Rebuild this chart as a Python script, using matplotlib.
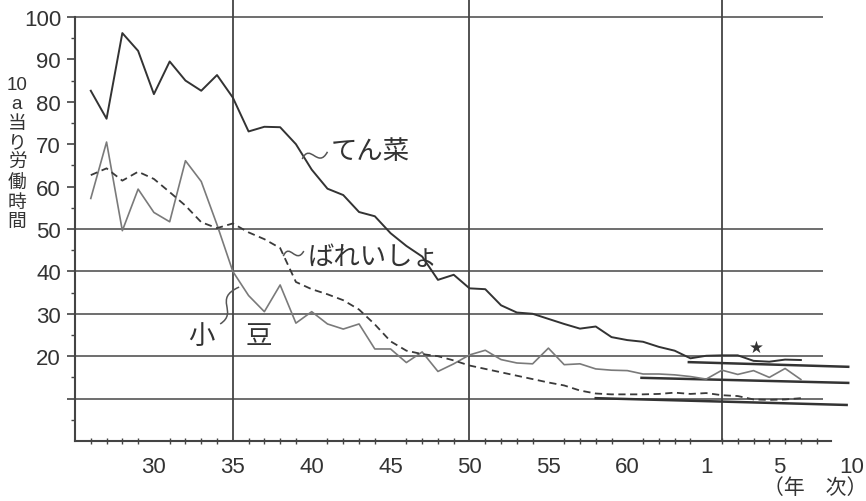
import numpy as np
import matplotlib
matplotlib.use("Agg")
import matplotlib.pyplot as plt
from matplotlib.path import Path
from matplotlib.patches import PathPatch
from matplotlib.ticker import FixedLocator

plt.rcParams['font.family'] = ['Liberation Sans', 'Noto Sans CJK JP', 'DejaVu Sans']

# x = Showa year (Heisei continues on the same scale: H1 = 64)
years = list(range(26, 72))

tensai = [82.6, 76.0, 96.2, 92.0, 81.8, 89.5, 85.0, 82.6, 86.3, 81.0,
          73.0, 74.1, 74.0, 70.0, 64.0, 59.5, 58.0, 54.0, 53.0, 49.0,
          46.0, 43.5, 38.0, 39.2, 36.0, 35.8, 32.0, 30.3, 30.0, 28.8,
          27.6, 26.5, 27.0, 24.5, 23.8, 23.4, 22.2, 21.3, 19.5, 20.1,
          20.2, 20.2, 18.9, 18.7, 19.2, 19.1]

bareisho = [62.7, 64.3, 61.4, 63.5, 61.8, 58.7, 55.5, 51.6, 50.2, 51.3,
            49.2, 47.6, 45.5, 37.5, 35.8, 34.6, 33.2, 31.0, 27.5, 23.5,
            21.3, 20.5, 20.0, 19.0, 17.8, 17.0, 16.2, 15.4, 14.6, 13.8,
            13.1, 11.9, 11.2, 11.0, 11.0, 11.0, 11.1, 11.4, 11.1, 11.3,
            10.8, 10.6, 9.8, 9.7, 9.8, 10.1]

azuki = [57.2, 70.5, 49.6, 59.4, 53.9, 51.7, 66.1, 61.2, 51.0, 40.0,
         34.3, 30.5, 36.8, 27.8, 30.5, 27.6, 26.4, 27.6, 21.7, 21.7,
         18.5, 21.0, 16.4, 18.2, 20.3, 21.4, 19.2, 18.4, 18.2, 21.9,
         18.0, 18.2, 17.0, 16.7, 16.6, 15.8, 15.8, 15.6, 15.2, 14.6,
         16.7, 15.7, 16.6, 15.0, 17.1, 14.5]

# slanted reference strokes in the Heisei part (x0, y0, x1, y1)
ref_segments = [(63.9, 18.6, 74.0, 17.5),
                (60.9, 14.9, 74.0, 13.7),
                (58.0, 10.1, 73.9, 8.5)]

xtick_pos = [30, 35, 40, 45, 50, 55, 60, 65.0, 69.6, 74.2]
xtick_labels = ['30', '35', '40', '45', '50', '55', '60', '1', '5', '10']
ytick_pos = [10, 20, 30, 40, 50, 60, 70, 80, 90, 100]
ytick_labels = ['', '20', '30', '40', '50', '60', '70', '80', '90', '100']
grid_y = [10, 20, 30, 40, 50, 100]
vlines_x = [35, 50, 66]

fig = plt.figure(figsize=(8.66, 5.02), dpi=100)
ax = fig.add_axes([75 / 866, 1 - 442 / 502, (864 - 75) / 866, (442 - 1) / 502])
ax.set_xlim(25.0, 75.0)
ax.set_ylim(0, 104)

grid_c = '#555555'
ax.hlines(grid_y, 25.0, 72.4, colors=grid_c, lw=1.2, zorder=1)
ax.vlines(vlines_x, 0, 104, colors='#444444', lw=1.3, zorder=1)

for x0, y0, x1, y1 in ref_segments:
    ax.plot([x0, x1], [y0, y1], color='#333333', lw=1.8, zorder=2)

ax.plot(years, tensai, color='#333333', lw=1.4, zorder=3)
ax.plot(years, azuki, color='#7a7a7a', lw=1.2, zorder=3)
ax.plot(years, bareisho, color='#3a3a3a', lw=1.3, ls=(0, (4, 2.5)), zorder=3)

# wavy leaders
def leader(pts):
    p = Path(pts, [Path.MOVETO, Path.CURVE4, Path.CURVE4, Path.CURVE4])
    ax.add_patch(PathPatch(p, fill=False, ec='#555555', lw=1.1, zorder=4))

leader([(39.4, 66.5), (39.9, 70.5), (40.4, 64.0), (41.0, 68.2)])
leader([(38.2, 43.6), (38.6, 47.0), (39.0, 41.5), (39.5, 44.8)])
leader([(34.2, 27.6), (35.4, 30.5), (33.7, 33.5), (35.4, 36.3)])

lab_kw = dict(fontsize=19, va='center', color='#333333')
ax.text(41.2, 68.4, 'てん菜', ha='left', **lab_kw)
ax.text(39.75, 43.4, 'ばれいしょ', ha='left', **lab_kw)
ax.text(33.0, 24.8, '小', ha='center', **lab_kw)
ax.text(36.65, 24.8, '豆', ha='center', **lab_kw)
ax.text(68.2, 22.3, '★', fontsize=12, ha='center', va='center', color='#333333',
        family=['DejaVu Sans'])

for s in ['top', 'right']:
    ax.spines[s].set_visible(False)
for s in ['left', 'bottom']:
    ax.spines[s].set_color('#444444')
    ax.spines[s].set_linewidth(1.5)
ax.spines['left'].set_bounds(0, 100)
ax.spines['bottom'].set_bounds(25.0, 72.9)

ax.set_xticks(xtick_pos)
ax.set_xticklabels(xtick_labels)
ax.xaxis.set_minor_locator(FixedLocator(list(range(26, 73))))
ax.tick_params(axis='x', which='major', length=0, pad=11, labelsize=16, labelcolor='#333333')
ax.tick_params(axis='x', which='minor', length=4, width=1.0, direction='inout', color='#444444')

ax.set_yticks(ytick_pos)
ax.set_yticklabels(ytick_labels)
ax.yaxis.set_minor_locator(FixedLocator([5, 15, 25, 35, 45, 55, 65, 75, 85, 95]))
ax.tick_params(axis='y', which='major', length=6, width=1.2, pad=4, labelsize=16,
               labelcolor='#333333', color='#444444')
ax.tick_params(axis='y', which='minor', length=3, width=1.0, color='#444444')

fig.text(17 / 866, 1 - 154 / 502, '10\na\n当\nり\n労\n働\n時\n間', fontsize=13.5,
         ha='center', va='center', linespacing=1.2, color='#333333')
fig.text(815 / 866, 1 - 488 / 502, '（年　次）', fontsize=15, ha='center', va='center',
         color='#333333')

fig.savefig('out.png', dpi=100)
